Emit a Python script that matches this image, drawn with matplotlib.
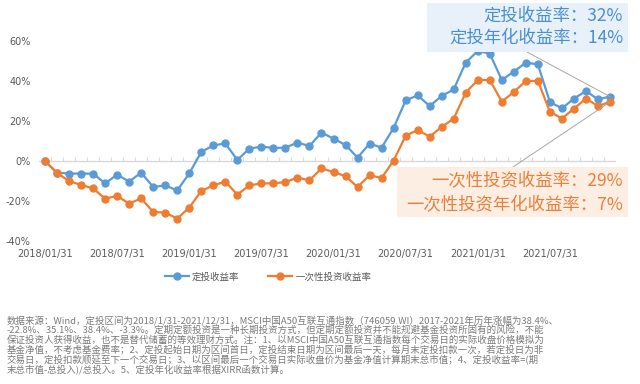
import matplotlib.pyplot as plt
import numpy as np
from matplotlib.patches import Rectangle

plt.rcParams['font.family'] = ['Noto Sans CJK SC', 'DejaVu Sans']

# 每月末数据，2018/01/31 - 2021/12/31
dingtou = [0.0, -5.8, -6.3, -6.3, -6.3, -11.2, -6.8, -10.3, -5.8, -13.0, -12.2, -14.7,
           -6.2, 4.5, 7.8, 8.8, 0.5, 6.2, 7.2, 6.5, 6.7, 9.2, 7.5, 14.2,
           11.2, 8.0, 1.7, 8.7, 6.7, 16.5, 30.3, 32.8, 27.5, 32.5, 35.8, 49.2,
           55.0, 53.7, 40.5, 44.7, 49.2, 48.3, 29.5, 26.3, 31.2, 35.0, 30.8, 32.2]
yicixing = [0.0, -6.0, -10.0, -12.0, -13.7, -18.8, -17.5, -21.3, -18.7, -25.5, -25.8, -28.8,
            -23.3, -15.0, -12.2, -10.3, -16.8, -12.2, -11.2, -11.2, -10.5, -8.3, -9.7, -3.7,
            -5.5, -7.6, -13.0, -7.1, -8.5, 0.2, 12.6, 15.5, 12.2, 17.0, 21.2, 34.2,
            40.5, 40.5, 29.7, 34.5, 40.0, 40.0, 24.7, 21.2, 26.2, 31.2, 27.5, 29.5]
tick_pos = [0, 6, 12, 18, 24, 30, 36, 42]
tick_labels = ['2018/01/31', '2018/07/31', '2019/01/31', '2019/07/31',
               '2020/01/31', '2020/07/31', '2021/01/31', '2021/07/31']
y_ticks = [-40, -20, 0, 20, 40, 60]

blue_note = ['定投收益率：32%', '定投年化收益率：14%']
orange_note = ['一次性投资收益率：29%', '一次性投资年化收益率：7%']
footnote = [
    '数据来源：Wind，定投区间为2018/1/31-2021/12/31，MSCI中国A50互联互通指数（746059.WI）2017-2021年历年涨幅为38.4%、',
    '-22.8%、35.1%、38.4%、-3.3%。定期定额投资是一种长期投资方式，但定期定额投资并不能规避基金投资所固有的风险，不能',
    '保证投资人获得收益，也不是替代储蓄的等效理财方式。注：1、以MSCI中国A50互联互通指数每个交易日的实际收盘价格模拟为',
    '基金净值，不考虑基金费率；2、定投起始日期为区间首日，定投结束日期为区间最后一天，每月末定投扣款一次，若定投日为非',
    '交易日，定投扣款顺延至下一个交易日；3、以区间最后一个交易日实际收盘价为基金净值计算期末总市值；4、定投收益率=(期',
    '末总市值-总投入)/总投入。5、定投年化收益率根据XIRR函数计算。',
]

blue = '#5B9BD5'
orange = '#ED7D31'

fig = plt.figure(figsize=(6.4, 3.84), dpi=100)
ax = fig.add_axes([39/640, 1-241/384, 577/640, 200/384])

x = np.arange(len(dingtou))
ax.plot(x, dingtou, color=blue, lw=1.6, marker='o', ms=5, label='定投收益率')
ax.plot(x, yicixing, color=orange, lw=1.6, marker='o', ms=5, label='一次性投资收益率')

ax.set_xlim(-0.5, len(x)-0.5)
ax.set_ylim(-40, 60)

# 0轴及刻度线
ax.axhline(0, color='#d9d9d9', lw=1, zorder=0)
ax.vlines(np.arange(len(x)) + 0.5, 0, 1.8, color='#d9d9d9', lw=0.8, zorder=0)

for s in ax.spines.values():
    s.set_visible(False)
ax.set_xticks(tick_pos, tick_labels)
ax.set_yticks(y_ticks, ['%d%%' % v for v in y_ticks])
ax.tick_params(axis='x', length=0, pad=6, labelsize=7, labelcolor='#595959')
ax.tick_params(axis='y', length=0, pad=6, labelsize=7, labelcolor='#595959')
for lab in ax.get_xticklabels() + ax.get_yticklabels():
    lab.set_family('DejaVu Sans')

leg = fig.legend(loc='center', bbox_to_anchor=(268/640, 1-277/384), ncol=2, frameon=False,
                 fontsize=6.8, handlelength=2.6, columnspacing=3.0, handletextpad=0.3)
for t in leg.get_texts():
    t.set_color('#595959')

# 注释框
fig.add_artist(Rectangle((427/640, 1-52/384), 201/640, 49/384, transform=fig.transFigure,
                         facecolor='#e8f1fa', edgecolor='none', zorder=3))
fig.add_artist(Rectangle((397/640, 1-217/384), 231/640, 50/384, transform=fig.transFigure,
                         facecolor='#fdeee4', edgecolor='none', zorder=3))
fig.text(623/640, 1-16/384, blue_note[0], ha='right', va='center', fontsize=12.5, color='#4a8fd0', zorder=4)
fig.text(623/640, 1-38/384, blue_note[1], ha='right', va='center', fontsize=12.5, color='#4a8fd0', zorder=4)
fig.text(623/640, 1-181/384, orange_note[0], ha='right', va='center', fontsize=12.5, color='#e8803a', zorder=4)
fig.text(623/640, 1-205/384, orange_note[1], ha='right', va='center', fontsize=12.5, color='#e8803a', zorder=4)

ax.annotate('', xy=(x[-1], dingtou[-1]), xytext=(527, 384-52), textcoords='figure pixels',
            arrowprops=dict(arrowstyle='-', color='#a6a6a6', lw=0.7, shrinkA=0, shrinkB=0))
ax.annotate('', xy=(x[-1], yicixing[-1]), xytext=(513, 384-167), textcoords='figure pixels',
            arrowprops=dict(arrowstyle='-', color='#a6a6a6', lw=0.7, shrinkA=0, shrinkB=0))

for i, line in enumerate(footnote):
    fig.text(7/640, 1-(320.5 + i*9.8)/384, line, ha='left', va='center', fontsize=6.8, color='#7a7a7a')

fig.savefig('out.png', dpi=100)
